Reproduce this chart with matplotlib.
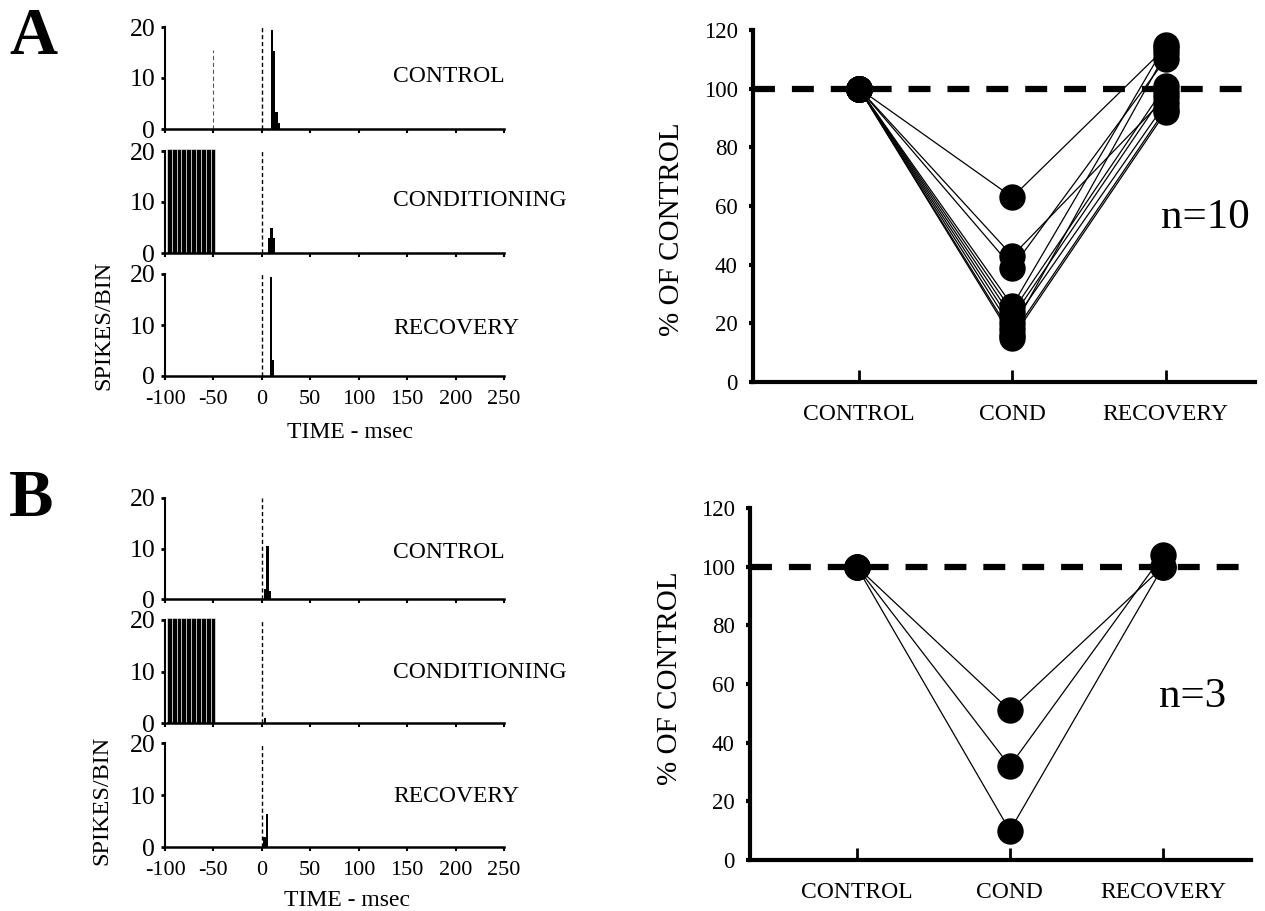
import matplotlib
matplotlib.use('Agg')
import matplotlib.pyplot as plt

plt.rcParams['font.family'] = ['Liberation Serif', 'DejaVu Serif']
plt.rcParams['lines.scale_dashes'] = False

# ---------------- data ----------------
TIME_TICKS = [-100, -50, 0, 50, 100, 150, 200, 250]
SPK_TICKS = [0, 10, 20]
PHASES = ['CONTROL', 'CONDITIONING', 'RECOVERY']

BIN_W = 2.5
STIM_W = 5.0
STIM_T = [-98, -93, -88, -83, -78, -73, -68, -63, -58, -53]
STIM_H = [20.4, 20.4, 20.4, 20.4, 20.4, 20.4, 20.4, 20.4, 20.4, 20.4]

A_CTRL_T = [9, 11.5, 14, 16.5]
A_CTRL_H = [19.5, 15.3, 3.3, 1.2]
A_COND_T = [6, 8.5, 11]
A_COND_H = [3.0, 5.0, 3.0]
A_REC_T = [8, 10.5]
A_REC_H = [19.5, 3.2]

B_CTRL_T = [2, 4.5, 7]
B_CTRL_H = [2.0, 10.5, 1.5]
B_COND_T = [2]
B_COND_H = [1.0]
B_REC_T = [1.5, 4]
B_REC_H = [2.0, 6.3]

CATS = ['CONTROL', 'COND', 'RECOVERY']
PCT_TICKS = [0, 20, 40, 60, 80, 100, 120]
A_CTRL = [100, 100, 100, 100, 100, 100, 100, 100, 100, 100]
A_COND = [63, 43, 39, 26, 24, 22, 20, 18, 16, 15]
A_REC = [114, 97, 110, 115, 101, 99, 95, 112, 93, 92]
B_CTRL = [100, 100, 100]
B_COND = [51, 32, 10]
B_REC = [100, 104, 100]

W, H = 1265, 911
fig = plt.figure(figsize=(W / 100, H / 100), dpi=100)


def fx(px):
    return px / W


def fy(py):
    return 1 - py / H


def hist_axes(left_px, right_px, top_px, bot_px, show_x):
    ax = fig.add_axes([fx(left_px), fy(bot_px), (right_px - left_px) / W, (bot_px - top_px) / H])
    ax.set_xlim(-100, 250)
    ax.set_ylim(0, 20)
    ax.spines['top'].set_visible(False)
    ax.spines['right'].set_visible(False)
    ax.spines['left'].set_linewidth(1.5)
    ax.spines['bottom'].set_linewidth(1.8)
    ax.set_yticks(SPK_TICKS)
    ax.set_yticklabels([str(v) for v in SPK_TICKS], fontsize=18.5)
    ax.tick_params(axis='y', direction='out', length=3, width=2, pad=4)
    ax.set_xticks(TIME_TICKS)
    ax.tick_params(axis='x', direction='out', length=3, width=1.5, pad=7)
    if show_x:
        ax.set_xticklabels([str(v) for v in TIME_TICKS], fontsize=16)
    else:
        ax.set_xticklabels([])
    ax.patch.set_alpha(0)
    return ax


def draw_hist_panel(left_px, right_px, rows, data, text_ys, xlabel_pos, ylabel_pos, minus50=False):
    axes = []
    for i, (top_px, bot_px) in enumerate(rows):
        ax = hist_axes(left_px, right_px, top_px, bot_px, i == 2)
        t, h = data[i]
        if i == 1:
            ax.bar(STIM_T, STIM_H, width=STIM_W, align='edge', color='black',
                   edgecolor='white', linewidth=0.4, clip_on=False)
        ax.bar(t, h, width=BIN_W, align='edge', color='black', linewidth=0)
        ax.vlines(0, 0, 20, colors='black', linestyles=(0, (3, 2)), linewidth=1.0)
        if minus50 and i == 0:
            ax.vlines(-50, 0, 15.5, colors='#555555', linestyles=(0, (3, 2)), linewidth=0.8)
        fig.text(fx(393), fy(text_ys[i]), PHASES[i], fontsize=17, va='center', ha='left')
        axes.append(ax)
    fig.text(fx(xlabel_pos[0]), fy(xlabel_pos[1]), 'TIME - msec', fontsize=17, ha='center', va='center')
    fig.text(fx(ylabel_pos[0]), fy(ylabel_pos[1]), 'SPIKES/BIN', fontsize=17.5, ha='center', va='center', rotation=90)
    return axes


def draw_pct_panel(left_px, right_px, top_px, bot_px, xlim, ctrl, cond, rec, ntext, npos, ylab_pos):
    ax = fig.add_axes([fx(left_px), fy(bot_px), (right_px - left_px) / W, (bot_px - top_px) / H])
    ax.set_xlim(*xlim)
    ax.set_ylim(0, 120)
    ax.spines['top'].set_visible(False)
    ax.spines['right'].set_visible(False)
    ax.spines['left'].set_linewidth(3)
    ax.spines['bottom'].set_linewidth(3)
    ax.set_yticks(PCT_TICKS)
    ax.set_yticklabels([str(v) for v in PCT_TICKS], fontsize=16.5)
    ax.tick_params(axis='y', direction='out', length=3, width=3, pad=8)
    ax.set_xticks([1, 2, 3])
    ax.set_xticklabels(CATS, fontsize=17)
    ax.tick_params(axis='x', direction='in', length=8.6, width=2, pad=16)
    ax.axhline(100, color='black', linewidth=4.5, linestyle=(0, (15.8, 12.2)), zorder=1)
    for c0, c1, c2 in zip(ctrl, cond, rec):
        ax.plot([1, 2, 3], [c0, c1, c2], color='black', linewidth=0.9, marker='o',
                markersize=18, markerfacecolor='black', markeredgecolor='black', zorder=3, clip_on=False)
    fig.text(fx(npos[0]), fy(npos[1]), ntext, fontsize=31, ha='left', va='center')
    fig.text(fx(ylab_pos[0]), fy(ylab_pos[1]), '% OF CONTROL', fontsize=21, ha='center', va='center', rotation=90)
    return ax


# Panel A
draw_hist_panel(165, 504, [(27, 129), (151, 253), (274, 376)],
                [(A_CTRL_T, A_CTRL_H), (A_COND_T, A_COND_H), (A_REC_T, A_REC_H)],
                [77, 200, 328], (350, 433), (104, 325), minus50=True)
draw_pct_panel(753, 1255, 30, 382, (0.307, 3.584), A_CTRL, A_COND, A_REC, 'n=10', (1161, 218), (672, 229))

# Panel B
draw_hist_panel(165, 504, [(498, 599), (620, 723), (743, 847)],
                [(B_CTRL_T, B_CTRL_H), (B_COND_T, B_COND_H), (B_REC_T, B_REC_H)],
                [552, 672, 797], (347, 900), (102, 800))
draw_pct_panel(750, 1251, 508, 860, (0.303, 3.575), B_CTRL, B_COND, B_REC, 'n=3', (1159, 697), (670, 678))

fig.text(fx(9), fy(37), 'A', fontsize=48, fontweight='bold', ha='left', va='center')
fig.text(fx(9), fy(500), 'B', fontsize=48, fontweight='bold', ha='left', va='center')

fig.savefig('out.png', dpi=100)
